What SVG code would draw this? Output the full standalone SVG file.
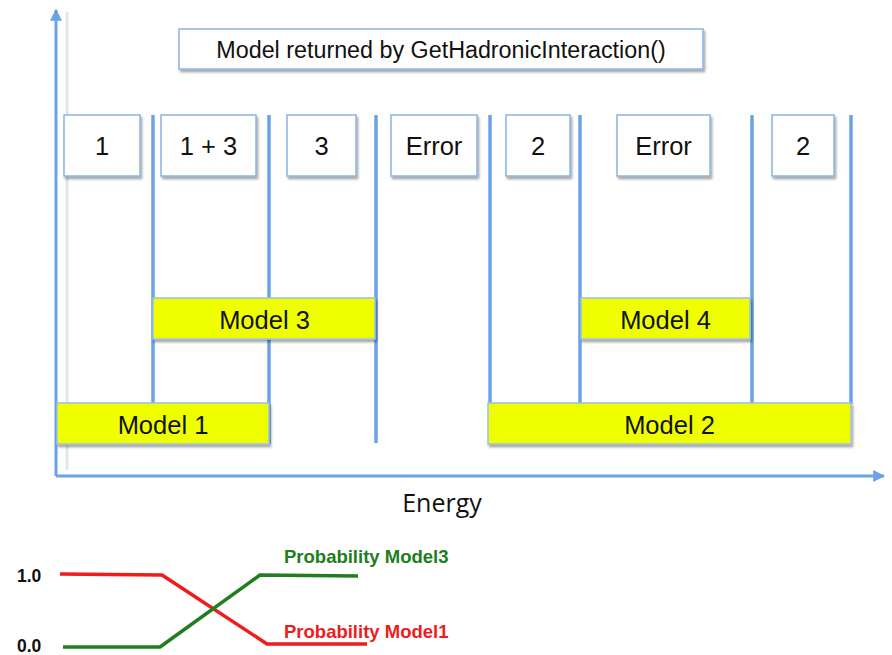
<svg xmlns="http://www.w3.org/2000/svg" width="892" height="655" viewBox="0 0 892 655">
  <style>
    .axis { stroke: #6aa3e8; stroke-width: 3; fill: none; }
    .guide { stroke: #e6e6e6; stroke-width: 3; fill: none; }
    .bound { stroke: #6aa3e8; stroke-width: 3.5; fill: none; }
    .box { fill: #ffffff; stroke: #8ab4e4; stroke-width: 1.5; filter: url(#shadow); }
    .model { fill: #f0ff00; stroke: #9ac0e8; stroke-width: 1.5; filter: url(#shadow); }
    .lbl { font-family: "Liberation Sans", Arial, sans-serif; font-size: 25.5px; fill: #111; text-anchor: middle; }
    .title { font-family: "Liberation Sans", Arial, sans-serif; font-size: 23.3px; fill: #111; text-anchor: middle; }
    .energy { font-family: "Open Sans", "Noto Sans", sans-serif; font-size: 25px; fill: #111; text-anchor: middle; }
    .tick { font-family: "Liberation Sans", Arial, sans-serif; font-size: 17.5px; font-weight: bold; fill: #111; }
    .plbl { font-family: "Liberation Sans", Arial, sans-serif; font-size: 18.5px; font-weight: bold; }
    .curve { fill: none; stroke-width: 3.5; stroke-linejoin: round; }
  </style>
  <defs>
    <filter id="shadow" x="-10%" y="-20%" width="125%" height="160%">
      <feDropShadow dx="1.5" dy="2.5" stdDeviation="1.2" flood-color="#000" flood-opacity="0.35"/>
    </filter>
    <marker id="arrow" viewBox="0 0 10 10" refX="9" refY="5" markerWidth="4" markerHeight="4" orient="auto-start-reverse">
      <path d="M0,0 L10,5 L0,10 z" fill="#6aa3e8"/>
    </marker>
  </defs>

  <rect width="892" height="655" fill="#ffffff"/>

  <!-- axes and energy-range boundaries -->
  <g id="connectors">
    <line class="guide" x1="67" y1="12" x2="67" y2="470"/>
    <line class="axis" x1="56" y1="476" x2="56" y2="10" marker-end="url(#arrow)"/>
    <line class="axis" x1="56" y1="476" x2="884" y2="476" marker-end="url(#arrow)"/>
    <line class="bound" x1="153" y1="115" x2="153" y2="404"/>
    <line class="bound" x1="269" y1="115" x2="269" y2="444"/>
    <line class="bound" x1="376" y1="115" x2="376" y2="443"/>
    <line class="bound" x1="490" y1="115" x2="490" y2="404"/>
    <line class="bound" x1="580" y1="115" x2="580" y2="404"/>
    <line class="bound" x1="752" y1="115" x2="752" y2="404"/>
    <line class="bound" x1="851" y1="115" x2="851" y2="404"/>
  </g>

  <g id="title">
    <rect class="box" x="179" y="29" width="524" height="40"/>
    <text class="title" x="441" y="57.5">Model returned by GetHadronicInteraction()</text>
  </g>

  <!-- result per energy range -->
  <g id="r1"><rect class="box" x="64" y="115" width="76" height="61"/><text class="lbl" x="102" y="155">1</text></g>
  <g id="r13"><rect class="box" x="161" y="115" width="95" height="61"/><text class="lbl" x="208.5" y="155">1 + 3</text></g>
  <g id="r3"><rect class="box" x="287" y="115" width="69" height="61"/><text class="lbl" x="321.5" y="155">3</text></g>
  <g id="rErr1"><rect class="box" x="391" y="115" width="86" height="61"/><text class="lbl" x="434" y="155">Error</text></g>
  <g id="r2a"><rect class="box" x="506" y="115" width="64" height="61"/><text class="lbl" x="538" y="155">2</text></g>
  <g id="rErr2"><rect class="box" x="617" y="115" width="93" height="61"/><text class="lbl" x="663.5" y="155">Error</text></g>
  <g id="r2b"><rect class="box" x="772" y="115" width="62" height="61"/><text class="lbl" x="803" y="155">2</text></g>

  <!-- models and their applicability ranges -->
  <g id="model3"><rect class="model" x="153" y="298" width="222" height="41"/><text class="lbl" x="264.5" y="328.5">Model 3</text></g>
  <g id="model4"><rect class="model" x="581" y="298" width="169" height="41"/><text class="lbl" x="665.5" y="328.5">Model 4</text></g>
  <g id="model1"><rect class="model" x="57" y="403" width="212" height="41"/><text class="lbl" x="163" y="434">Model 1</text></g>
  <g id="model2"><rect class="model" x="488" y="403" width="363" height="41"/><text class="lbl" x="669.5" y="434">Model 2</text></g>

  <text class="energy" x="442" y="512">Energy</text>

  <!-- probability blending between Model1 and Model3 -->
  <g id="probability">
    <text class="tick" x="17" y="582">1.0</text>
    <text class="tick" x="17" y="652">0.0</text>
    <polyline class="curve" stroke="#ee1c1c" points="60,574 162,575 267,644 367,644"/>
    <polyline class="curve" stroke="#207d20" points="63,647 160,647 260,575 358,576"/>
    <text class="plbl" x="284" y="563" fill="#207d20">Probability Model3</text>
    <text class="plbl" x="284" y="638" fill="#ee1c1c">Probability Model1</text>
  </g>
</svg>
